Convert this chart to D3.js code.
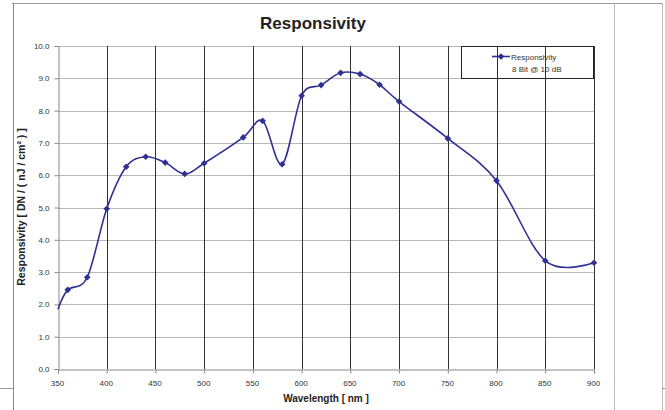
<!DOCTYPE html>
<html>
<head>
<meta charset="utf-8">
<script src="https://cdn.jsdelivr.net/npm/d3@7"></script>
<style>
  body { margin: 0; background: #fff; }
  text { font-family: "Liberation Sans", Arial, sans-serif; }
</style>
</head>
<body>
<svg id="chart" width="665" height="410"></svg>
<script>
// wavelength in nm, responsivity in DN / (nJ / cm2)
var wavelengths = [350, 360, 380, 400, 420, 440, 460, 480, 500, 540, 560, 580, 600, 620, 640, 660, 680, 700, 750, 800, 850, 900];
var responsivity = [1.85, 2.45, 2.84, 4.96, 6.26, 6.57, 6.39, 6.04, 6.37, 7.17, 7.68, 6.34, 8.46, 8.79, 9.17, 9.13, 8.80, 8.28, 7.14, 5.83, 3.35, 3.29];
var xTicks = [350, 400, 450, 500, 550, 600, 650, 700, 750, 800, 850, 900];
var yTicks = [0, 1, 2, 3, 4, 5, 6, 7, 8, 9, 10];
var seriesName = ['Responsivity', '8 Bit @ 10 dB'];

var svg = d3.select('#chart');
var blue = '#2e3192';

var x = d3.scaleLinear().domain([350, 900]).range([58, 594]);
var y = d3.scaleLinear().domain([0, 10]).range([369, 46]);

// sheet / chart frame lines
var frame = svg.append('g').attr('fill', 'none');
frame.append('line').attr('x1', 12).attr('x2', 663).attr('y1', 3.5).attr('y2', 3.5).attr('stroke', '#999');
frame.append('line').attr('x1', 13.5).attr('x2', 13.5).attr('y1', 3).attr('y2', 410).attr('stroke', '#888');
frame.append('line').attr('x1', 614.5).attr('x2', 614.5).attr('y1', 3).attr('y2', 410).attr('stroke', '#bbb');
frame.append('line').attr('x1', 662.5).attr('x2', 662.5).attr('y1', 3).attr('y2', 410).attr('stroke', '#bbb');
frame.append('line').attr('x1', 0).attr('x2', 13).attr('y1', 388.5).attr('y2', 388.5).attr('stroke', '#999');
frame.append('line').attr('x1', 662).attr('x2', 665).attr('y1', 388.5).attr('y2', 388.5).attr('stroke', '#999');

// gridlines
svg.append('g').selectAll('line').data(yTicks.slice(1)).enter().append('line')
    .attr('x1', x(350)).attr('x2', x(900))
    .attr('y1', function(d) { return Math.round(y(d)) + 0.5; })
    .attr('y2', function(d) { return Math.round(y(d)) + 0.5; })
    .attr('stroke', '#b8b8b8');

svg.append('g').selectAll('line').data(xTicks.slice(1)).enter().append('line')
    .attr('x1', function(d) { return Math.round(x(d)) + 0.5; })
    .attr('x2', function(d) { return Math.round(x(d)) + 0.5; })
    .attr('y1', y(10)).attr('y2', y(0))
    .attr('stroke', '#333');

// axes
var xAxis = svg.append('g')
    .attr('transform', 'translate(0,' + (Math.round(y(0)) + 0.5) + ')')
    .call(d3.axisBottom(x).tickValues(xTicks).tickSize(4).tickPadding(7).tickFormat(d3.format('d')));
var yAxis = svg.append('g')
    .attr('transform', 'translate(' + (Math.round(x(350)) + 0.5) + ',0)')
    .call(d3.axisLeft(y).tickValues(yTicks).tickSize(4).tickPadding(5).tickFormat(d3.format('.1f')));

[xAxis, yAxis].forEach(function(a) {
    a.select('.domain').attr('stroke', '#888');
    a.selectAll('.tick line').attr('stroke', '#888');
    a.selectAll('.tick text').attr('fill', '#333').style('font-size', '8px');
});
xAxis.selectAll('.tick text').attr('dx', -1);

// title and axis titles
svg.append('text').attr('x', 313).attr('y', 29).attr('text-anchor', 'middle')
    .style('font-size', '17px').style('font-weight', 'bold').attr('fill', '#222')
    .text('Responsivity');
svg.append('text').attr('x', 326).attr('y', 402).attr('text-anchor', 'middle')
    .style('font-size', '10px').style('font-weight', 'bold').attr('fill', '#222')
    .text('Wavelength [ nm ]');
svg.append('text').attr('transform', 'translate(25,207) rotate(-90)').attr('text-anchor', 'middle')
    .style('font-size', '10.5px').style('font-weight', 'bold').attr('fill', '#222')
    .text('Responsivity [ DN / ( nJ / cm² ) ]');

// series
var points = wavelengths.map(function(w, i) { return [w, responsivity[i]]; });

var line = d3.line()
    .x(function(d) { return x(d[0]); })
    .y(function(d) { return y(d[1]); })
    .curve(d3.curveCardinal.tension(0));

svg.append('path').datum(points)
    .attr('d', line)
    .attr('fill', 'none')
    .attr('stroke', blue)
    .attr('stroke-width', 1.6);

// square turned 45 degrees, like the spreadsheet diamond
var diamond = d3.symbol().type(d3.symbolSquare).size(22);

// first point sits on the axis edge and shows no marker
svg.append('g').selectAll('path').data(points.slice(1)).enter().append('path')
    .attr('d', diamond)
    .attr('transform', function(d) { return 'translate(' + x(d[0]) + ',' + y(d[1]) + ') rotate(45)'; })
    .attr('fill', blue);

// legend (transparent box)
var legend = svg.append('g');
legend.append('rect').attr('x', 461.5).attr('y', 46.5).attr('width', 132).attr('height', 32)
    .attr('fill', 'none').attr('stroke', '#222');
legend.append('line').attr('x1', 492).attr('x2', 510).attr('y1', 56.5).attr('y2', 56.5)
    .attr('stroke', blue).attr('stroke-width', 1.6);
legend.append('path').attr('d', diamond).attr('transform', 'translate(501,56.5) rotate(45)').attr('fill', blue);
legend.selectAll('text').data(seriesName).enter().append('text')
    .attr('x', function(d, i) { return i === 0 ? 511 : 512; })
    .attr('y', function(d, i) { return 60 + i * 12; })
    .style('font-size', '8px').attr('fill', '#333')
    .text(function(d) { return d; });
</script>
</body>
</html>
